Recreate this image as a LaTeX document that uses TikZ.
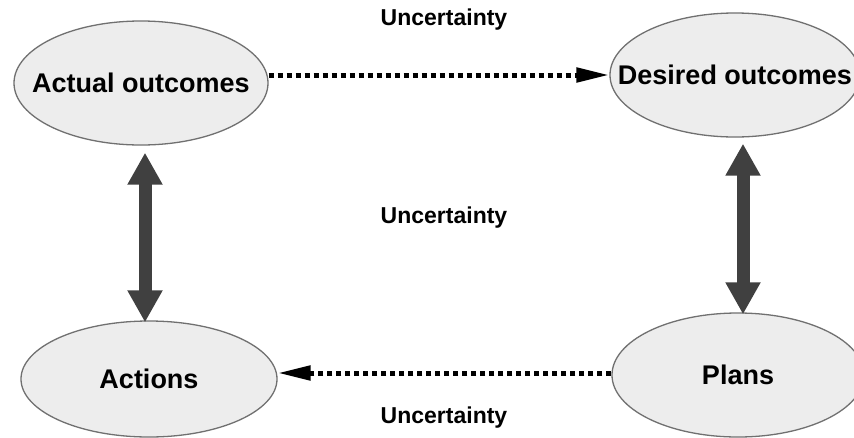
\documentclass[tikz,border=0pt]{standalone}
\usepackage{fontspec}
\setmainfont{Liberation Sans}
\usetikzlibrary{shapes.geometric,arrows.meta}

\definecolor{ovalfill}{HTML}{EDEDED}
\definecolor{ovalline}{HTML}{707070}
\definecolor{fatgray}{HTML}{404040}

\begin{document}
\begin{tikzpicture}[x=1pt,y=-1pt,
  oval/.style={ellipse,draw=ovalline,line width=1.3pt,fill=ovalfill,
    font=\fontsize{27}{30}\selectfont\bfseries,inner sep=0pt},
  tag/.style={font=\fontsize{23}{26}\selectfont\bfseries,inner sep=0pt},
  fatarrow/.style={draw=fatgray,line width=13pt,
    {Triangle[length=32pt,width=33pt]}-{Triangle[length=32pt,width=33pt]}},
  dotarrow/.style={line width=5pt,dash pattern=on 5pt off 4pt,
    -{Triangle[length=33pt,width=14pt]}}]

\useasboundingbox[fill=white] (0,0) rectangle (854,437);

% the four states
\node[oval,minimum width=254pt,minimum height=124pt] (act) at (141,83) {\makebox[0pt]{Actual outcomes}};
\node[oval,minimum width=250pt,minimum height=124pt] (des) at (735,75) {\makebox[0pt]{Desired outcomes}};
\node[oval,minimum width=256pt,minimum height=116pt] (acn) at (149,379) {\makebox[0pt]{Actions}};
\node[oval,minimum width=252pt,minimum height=124pt] (pln) at (738,375) {\makebox[0pt]{Plans}};

% uncertainty labels
\node[tag] (u1) at (444,20) {Uncertainty};
\node[tag] (u2) at (444,218) {Uncertainty};
\node[tag] (u3) at (444,418) {Uncertainty};

% links
\draw[dotarrow] ([yshift=8pt]act.east) -- (des.west);
\draw[dotarrow] ([yshift=2pt]pln.west) -- ([yshift=6pt]acn.east);
\draw[fatarrow] ([xshift=4pt,yshift=-7pt]act.south) -- ([xshift=-4pt,yshift=-2pt]acn.north);
\draw[fatarrow] ([xshift=8pt,yshift=-6pt]des.south) -- ([xshift=5pt,yshift=-2pt]pln.north);

\end{tikzpicture}
\end{document}
